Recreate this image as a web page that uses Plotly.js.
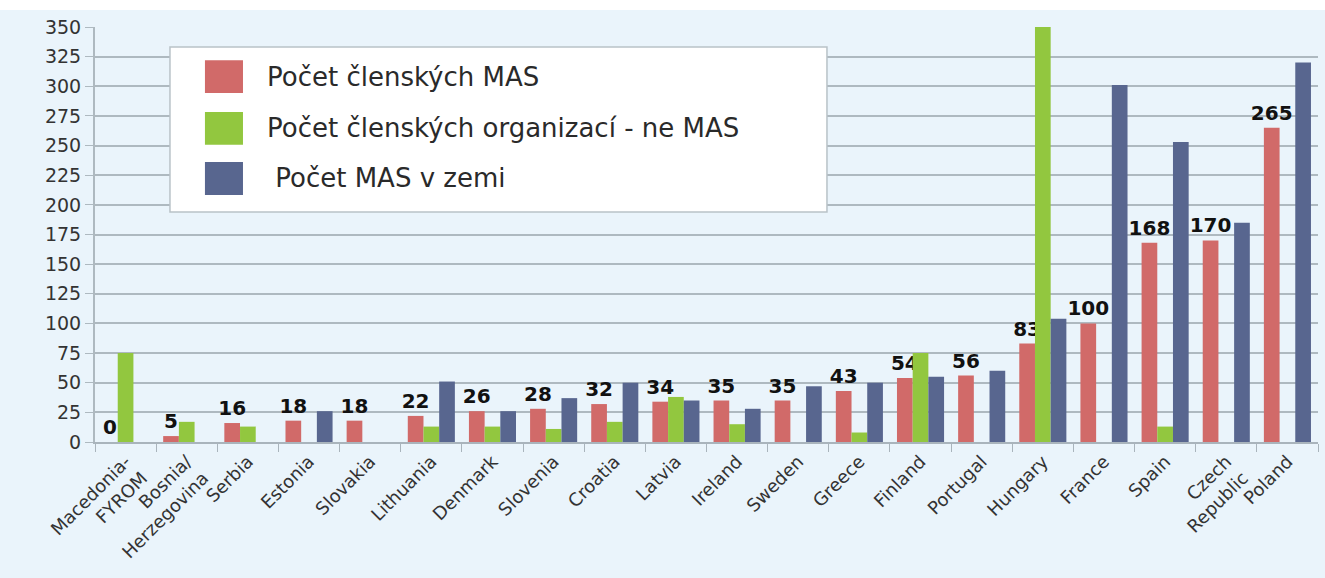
<!DOCTYPE html>
<html>
<head>
<meta charset="utf-8">
<script src="https://cdn.plot.ly/plotly-3.0.1.min.js"></script>
<style>html,body{margin:0;padding:0;background:#ffffff;}#chart{width:1325px;height:578px;}</style>
</head>
<body>
<div id="chart"></div>
<script>
var countries = ["Macedonia-<br>FYROM", "Bosnia/<br>Herzegovina", "Serbia", "Estonia", "Slovakia", "Lithuania", "Denmark", "Slovenia", "Croatia", "Latvia", "Ireland", "Sweden", "Greece", "Finland", "Portugal", "Hungary", "France", "Spain", "Czech<br>Republic", "Poland"];
var memberLAGs = [0, 5, 16, 18, 18, 22, 26, 28, 32, 34, 35, 35, 43, 54, 56, 83, 100, 168, 170, 265];
var memberNonLAG = [75, 17, 13, 0, 0, 13, 13, 11, 17, 38, 15, 0, 8, 75, 0, 350, 0, 13, 0, 0];
var lagsInCountry = [0, 0, 0, 26, 0, 51, 26, 37, 50, 35, 28, 47, 50, 55, 60, 104, 301, 253, 185, 320];
var seriesNames = ["Počet členských MAS", "Počet členských organizací - ne MAS", " Počet MAS v zemi"];
var yTicks = [0, 25, 50, 75, 100, 125, 150, 175, 200, 225, 250, 275, 300, 325, 350];

var colRed = "#D16A69", colGreen = "#92C73F", colBlue = "#58668F";
var bg = "#EAF4FB";

var traces = [
  {type: "bar", name: seriesNames[0], x: countries, y: memberLAGs, marker: {color: colRed},
   text: memberLAGs.map(String), textposition: "outside", constraintext: "none", cliponaxis: false,
   textfont: {family: "DejaVu Sans", size: 20, color: "#111111", weight: "bold"}},
  {type: "bar", name: seriesNames[1], x: countries, y: memberNonLAG, marker: {color: colGreen}},
  {type: "bar", name: seriesNames[2], x: countries, y: lagsInCountry, marker: {color: colBlue}}
];

// custom legend (large swatches) in paper coordinates
var lx0 = 0.0613, lx1 = 0.5985, ly0 = 0.554, ly1 = 0.952;
var sw = [[0.841, 0.920], [0.716, 0.795], [0.595, 0.675]];
var cols = [colRed, colGreen, colBlue];
var shapes = [
  {type: "rect", xref: "paper", yref: "paper", x0: -0.08, x1: 1.01, y0: 1.041, y1: 1.08, fillcolor: "#ffffff", line: {width: 0}, layer: "below"},
  {type: "rect", xref: "paper", yref: "paper", x0: lx0, x1: lx1, y0: ly0, y1: ly1, fillcolor: "#ffffff", line: {color: "#B9C2C8", width: 1.5}, layer: "above"}
];
var annotations = [];
for (var i = 0; i < 3; i++) {
  shapes.push({type: "rect", xref: "paper", yref: "paper", x0: 0.0899, x1: 0.1210, y0: sw[i][0], y1: sw[i][1], fillcolor: cols[i], line: {width: 0}, layer: "above"});
  annotations.push({xref: "paper", yref: "paper", x: 0.139, y: (sw[i][0] + sw[i][1]) / 2, xanchor: "left", yanchor: "middle",
    text: seriesNames[i], showarrow: false, font: {family: "DejaVu Sans", size: 26, color: "#2a2a2a"}});
}

var layout = {
  width: 1325, height: 578,
  margin: {l: 95, r: 7, t: 27, b: 136},
  paper_bgcolor: bg, plot_bgcolor: bg,
  barmode: "group", bargap: 0.23, bargroupgap: 0,
  showlegend: false,
  font: {family: "DejaVu Sans", color: "#333333"},
  xaxis: {type: "category", tickangle: -45, tickson: "boundaries", ticks: "outside", ticklen: 8, tickcolor: "#A9B4BC",
          showline: true, linecolor: "#A9B4BC", linewidth: 2, showgrid: false,
          tickfont: {family: "DejaVu Sans", size: 18, color: "#333333"}},
  yaxis: {range: [0, 350], tickvals: yTicks, ticks: "outside", ticklen: 8, tickcolor: "#AEB9C0",
          showline: true, linecolor: "#AEB9C0", linewidth: 2, gridcolor: "#AEB9C0", gridwidth: 2, zeroline: false,
          tickfont: {family: "DejaVu Sans", size: 19, color: "#333333"}},
  shapes: shapes,
  annotations: annotations
};

Plotly.newPlot("chart", traces, layout, {displayModeBar: false, staticPlot: true});
</script>
</body>
</html>
